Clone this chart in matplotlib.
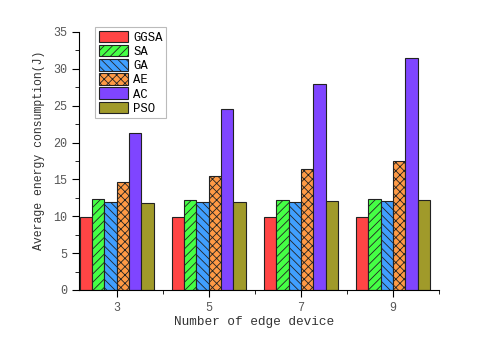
import numpy as np
import matplotlib.pyplot as plt
from matplotlib.ticker import MultipleLocator

plt.rcParams['font.family'] = ['Liberation Mono', 'DejaVu Sans Mono']
plt.rcParams['hatch.linewidth'] = 0.6

devices = ['3', '5', '7', '9']
ggsa = [9.86, 9.86, 9.86, 9.95]
sa = [12.35, 12.17, 12.2, 12.3]
ga = [11.9, 11.9, 12.0, 12.1]
ae = [14.6, 15.4, 16.4, 17.45]
ac = [21.3, 24.5, 28.0, 31.5]
pso = [11.76, 11.94, 12.03, 12.17]

series = [('GGSA', ggsa, '#ff4545', ''),
          ('SA', sa, '#45ff45', '////'),
          ('GA', ga, '#409fff', '\\\\\\\\'),
          ('AE', ae, '#ff9a45', 'xxxx'),
          ('AC', ac, '#7f45ff', ''),
          ('PSO', pso, '#a09a2a', '')]

fig = plt.figure(figsize=(4.91, 3.42), dpi=100)
ax = fig.add_axes([79 / 491, 52 / 342, 360 / 491, 258 / 342])

ind = np.arange(len(devices))
width = 0.134
for i, (name, vals, col, hatch) in enumerate(series):
    ax.bar(ind + (i - 2.5) * width, vals, width, color=col, edgecolor='#222222',
           linewidth=0.8, hatch=hatch, label=name)

ax.set_xlim(-0.41, 3.5)
ax.set_ylim(0, 35)
ax.set_xticks(ind)
ax.set_xticklabels(devices)
ax.xaxis.set_minor_locator(MultipleLocator(0.5))
ax.yaxis.set_major_locator(MultipleLocator(5))
ax.yaxis.set_minor_locator(MultipleLocator(2.5))
ax.spines['top'].set_visible(False)
ax.spines['right'].set_visible(False)
ax.tick_params(which='major', direction='out', length=5, labelsize=8.5, labelcolor='#555555')
ax.tick_params(which='minor', direction='out', length=3)

ax.set_xlabel('Number of edge device', fontsize=9.2, color='#333333')
ax.set_ylabel('Average energy consumption(J)', fontsize=8.3, color='#333333')
ax.xaxis.set_label_coords(0.4875, -0.1)
ax.yaxis.set_label_coords(-0.094, 0.54)

leg = ax.legend(loc='upper left', bbox_to_anchor=(0.045, 1.02), fontsize=8.8,
                frameon=True, fancybox=False, edgecolor='#aaaaaa',
                handlelength=2.4, handleheight=1.1, labelspacing=0.1,
                borderpad=0.3, handletextpad=0.4, borderaxespad=0)
leg.get_frame().set_linewidth(0.8)

plt.savefig('out.png', dpi=100)
